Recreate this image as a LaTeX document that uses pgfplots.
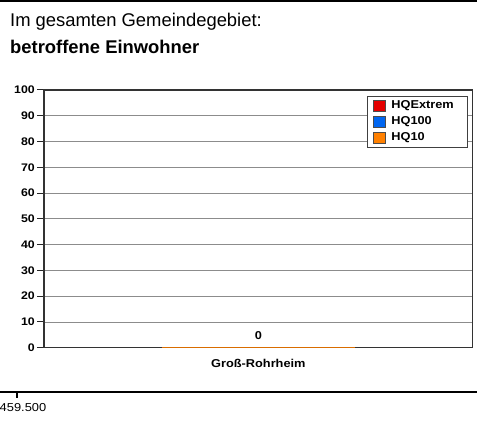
\documentclass[border=0pt]{standalone}
\usepackage{fontspec}
\setmainfont{Liberation Sans}
\newfontfamily\cf{Liberation Sans}[FakeStretch=1.12]
\usepackage{pgfplots}
\pgfplotsset{compat=1.18}
\definecolor{hqred}{RGB}{228,0,0}
\definecolor{hqblue}{RGB}{0,102,240}
\definecolor{hqorange}{RGB}{255,128,0}
\definecolor{gridgray}{RGB}{140,140,140}
\begin{document}
\begin{tikzpicture}[x=1pt,y=1pt]
\path[use as bounding box] (0pt,0pt) rectangle (477pt,428pt);
\fill[white] (0pt,0pt) rectangle (477pt,428pt);
\draw[line width=2.2pt] (0pt,427pt) -- (477pt,427pt);
\node[anchor=base west, inner sep=0pt] at (10pt,401.3pt) {\fontsize{18.4}{22}\selectfont Im gesamten Gemeindegebiet:};
\node[anchor=base west, inner sep=0pt] at (10pt,374.7pt) {\fontsize{18.4}{22}\selectfont\bfseries betroffene Einwohner};
\begin{axis}[
  at={(44pt,80.3pt)}, anchor=south west, scale only axis, width=428.7pt, height=257.7pt,
  ybar stacked, bar width=193pt,
  xmin=-0.5, xmax=0.5, ymin=0, ymax=100,
  xtick={0}, xticklabels={Groß-Rohrheim},
  ytick={0,10,...,100},
  ymajorgrids, grid style={gridgray, line width=0.8pt},
  axis line style={black!80, line width=1.3pt},
  tick align=outside, ytick pos=left,
  x tick style={draw=none}, y tick style={black!85, line width=1pt},
  major tick length=7pt,
  /pgf/number format/assume math mode=true,
  yticklabel style={font=\cf\bfseries\fontsize{11}{13}\selectfont, inner sep=0pt, xshift=-2pt},
  xticklabel style={font=\cf\bfseries\fontsize{11.4}{13}\selectfont, anchor=base, inner sep=0pt, yshift=-12.6pt},
  legend style={at={(1,1)}, anchor=north east, xshift=-4.7pt, yshift=-6pt, draw=black!75, line width=0.8pt,
    inner xsep=3.5pt, inner ysep=1.5pt, font=\cf\bfseries\fontsize{11.4}{13}\selectfont,
    nodes={inner sep=2.75pt, text height=8.2pt, text depth=2.3pt, text width=70pt}, row sep=0pt, cells={anchor=west}},
  legend image code/.code={\path[draw=none, fill=none] (0pt,0pt) -- (18pt,0pt); \draw[#1, draw=black!70, line width=0.6pt] (2.8pt,-5.6pt) rectangle (14.8pt,5.6pt);},
]
\addplot[fill=hqred, draw=hqred, line width=1pt] coordinates {(0,0)};
\addlegendentry{HQExtrem}
\addplot[fill=hqblue, draw=hqblue, line width=1pt] coordinates {(0,0)};
\addlegendentry{HQ100}
\addplot[fill=hqorange, draw=hqorange, line width=1.2pt] coordinates {(0,0)};
\addlegendentry{HQ10}
\end{axis}
\begin{axis}[
  at={(44pt,80.3pt)}, anchor=south west, scale only axis, width=428.7pt, height=257.7pt,
  xmin=-0.5, xmax=0.5, ymin=0, ymax=100, hide axis, clip=false]
\addplot[hqorange!85!black, line width=1.1pt, mark=none] coordinates {(-0.225,0) (0.225,0)};
\addplot[draw=none, mark=none, point meta=explicit symbolic,
  nodes near coords, nodes near coords style={font=\cf\bfseries\fontsize{11.4}{13}\selectfont, text=black, anchor=base, inner sep=0pt, yshift=8pt}]
  coordinates {(0,0) [0]};
\end{axis}
\begin{axis}[at={(0pt,36pt)}, anchor=south west, scale only axis, width=477pt, height=10pt,
  xmin=0, xmax=477, ymin=0, ymax=1, hide y axis, axis x line*=bottom,
  x axis line style={-, line width=2.3pt, black},
  xtick={16.7}, xticklabels={459.500}, tick align=outside, major tick length=6pt,
  x tick style={line width=2pt, black},
  xticklabel style={font=\cf\fontsize{11.5}{13}\selectfont, anchor=base, inner sep=0pt, yshift=-14pt, xshift=6.3pt}]
\end{axis}
\end{tikzpicture}
\end{document}
